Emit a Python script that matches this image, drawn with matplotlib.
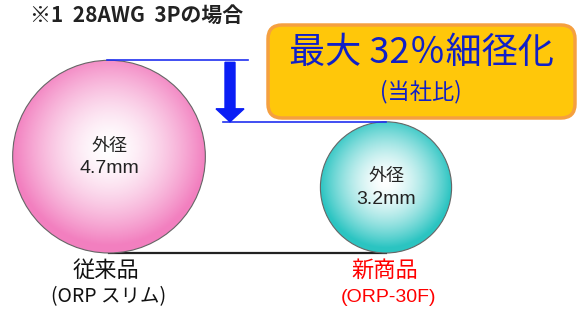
import numpy as np
import matplotlib.pyplot as plt
from matplotlib.patches import Circle, FancyBboxPatch, FancyArrow

plt.rcParams['font.family'] = ['Noto Sans CJK JP', 'DejaVu Sans']

# data
products = ['従来品', '新商品']
models = ['(ORP スリム)', '(ORP-30F)']
diameters = [4.7, 3.2]   # mm
centers_x = [109, 386]
name_colors = ['#111111', '#FF0000']
edge_colors = [(0.95, 0.50, 0.75), (0.17, 0.77, 0.76)]
title = '※1  28AWG  3Pの場合'
headline = '最大 32％細径化'
subline = '(当社比)'

W, H = 581, 309
px_per_mm = 20.5
base_y = 253

fig = plt.figure(figsize=(W / 100, H / 100), dpi=100)
ax = fig.add_axes([0, 0, 1, 1])
ax.set_xlim(0, W)
ax.set_ylim(H, 0)
ax.axis('off')

tops = []
for d, cx, ec in zip(diameters, centers_x, edge_colors):
    r = d * px_per_mm
    cy = base_y - r
    tops.append(cy - r)
    n = 300
    xs = np.linspace(cx - r, cx + r, n)
    ys = np.linspace(cy - r, cy + r, n)
    X, Y = np.meshgrid(xs, ys)
    t = np.clip(np.hypot(X - cx, Y - cy + r * 0.08) / r, 0, 1) ** 1.6
    img = np.zeros((n, n, 3))
    for k in range(3):
        img[..., k] = 1.0 * (1 - t) + ec[k] * t
    im = ax.imshow(img, extent=(cx - r, cx + r, cy + r, cy - r), zorder=2)
    circ = Circle((cx, cy), r, facecolor='none', edgecolor='#666666', lw=0.8, zorder=3)
    ax.add_patch(circ)
    im.set_clip_path(circ)
    ax.text(cx, cy - 11, '外径', ha='center', va='center', fontsize=13, color='#222222', zorder=4)
    ax.text(cx, cy + 12, f'{d}mm', ha='center', va='center', fontsize=14, color='#222222', zorder=4,
            family='Liberation Sans')

# base line
ax.plot([centers_x[0], centers_x[1]], [base_y, base_y], color='#222222', lw=1.6, zorder=1)

# blue reference lines
ax.plot([centers_x[0] - 2, 248], [tops[0], tops[0]], color='#2030F0', lw=1.2, zorder=5)
ax.plot([223, centers_x[1]], [tops[1], tops[1]], color='#2030F0', lw=1.2, zorder=5)
ax.add_patch(FancyArrow(230, tops[0] + 2, 0, tops[1] - tops[0] - 2, width=10, head_width=28,
                        head_length=13, length_includes_head=True, color='#0A1EF5', zorder=5))

# yellow box
box = FancyBboxPatch((268, 25), 307, 93, boxstyle='round,pad=0,rounding_size=14',
                     facecolor='#FFC70A', edgecolor='#F5A040', lw=2.5, zorder=6)
ax.add_patch(box)
ax.text(421, 53, headline, ha='center', va='center', fontsize=26, color='#1020C8', zorder=7)
ax.text(421, 92, subline, ha='center', va='center', fontsize=16, color='#1020C8', zorder=7)

# title
ax.text(30, 15, title, ha='left', va='center', fontsize=15, fontweight='bold', color='#222222')

# bottom labels
for cx, p, m, c in zip([106, 385], products, models, name_colors):
    ax.text(cx, 270, p, ha='center', va='center', fontsize=16, color=c)
    ax.text(cx + 3, 297, m, ha='center', va='center', fontsize=14, color=c, family='Liberation Sans'
            if p == '新商品' else ['Noto Sans CJK JP'])

fig.savefig('out.png', dpi=100)
